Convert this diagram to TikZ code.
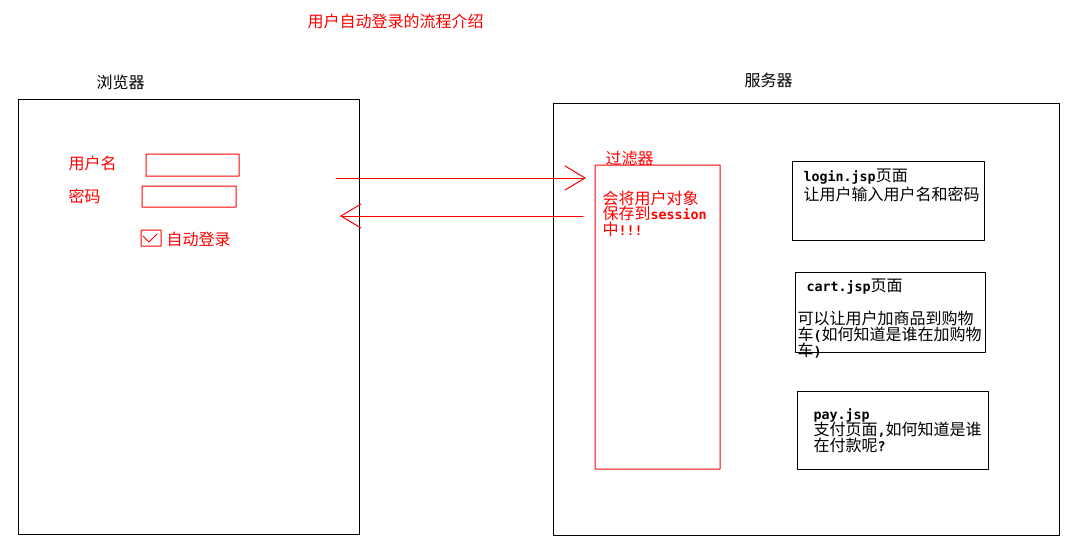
\documentclass[tikz,border=0pt]{standalone}
\usepackage{fontspec}
\setmainfont{Noto Sans CJK SC}
\setmonofont{DejaVu Sans Mono}
\usetikzlibrary{arrows.meta}
\newcommand{\jsp}[1]{{\ttfamily\bfseries\fontsize{10}{12}\selectfont #1}}

\begin{document}
\begin{tikzpicture}[x=0.75pt, y=-0.75pt, line width=0.75pt, line join=round, line cap=round,
	font=\fontsize{12}{12}\selectfont,
	lbl/.style={inner sep=0pt, anchor=base west},
	hot/.style={red},
	>={Straight Barb[length=15pt,width=18pt]}]
	\useasboundingbox (0,0) rectangle (1073,553);
	\path
	(336,178)coordinate (R1)
	(586,178)coordinate (R2)
	(583,216)coordinate (L1)
	(340,216)coordinate (L2)
	;
	% browser and server
	\draw
	(18,99) rectangle (359,534)
	(553,103) rectangle (1059,535)
	(792,161) rectangle (984,240)
	(795,272) rectangle (985,352)
	(797,391) rectangle (988,469)
	;
	\draw [hot]
	(146,154) rectangle (239,176)
	(142,186) rectangle (236,207)
	(141,230) rectangle (161,246)
	(143,236)--(149,242)--(157,234)
	(595,165) rectangle (720,469)
	;
	\draw [hot, ->] (R1)--(R2);
	\draw [hot, ->] (L1)--(L2);
	
	\node[lbl, hot] (title) at (307,27) {用户自动登录的流程介绍};
	\node[lbl] (brw) at (96,88) {浏览器};
	\node[lbl] (srv) at (744,86) {服务器};
	\node[lbl, hot] (user) at (68,169) {用户名};
	\node[lbl, hot] (pwd) at (68,202) {密码};
	\node[lbl, hot] (auto) at (166,245) {自动登录};
	\node[lbl, hot] (flt) at (605,164) {过滤器};
	\foreach \y/\t in {204/会将用户对象, 219/保存到\jsp{session}, 235/中\jsp{!!!}}
	\node[lbl, hot] at (602,\y) {\t};
	\foreach \y/\t in {181/\jsp{login.jsp}页面, 200/让用户输入用户名和密码}
	\node[lbl] at (803,\y) {\t};
	\node[lbl] (cart) at (806,291) {\jsp{cart.jsp}页面};
	\foreach \y/\t in {324/可以让用户加商品到购物, 340/车\jsp{(}如何知道是谁在加购物, 356/车\jsp{)}}
	\node[lbl] at (797,\y) {\t};
	\foreach \y/\t in {419/\jsp{pay.jsp}, 435/支付页面\jsp{,}如何知道是谁, 451/在付款呢\jsp{?}}
	\node[lbl] at (813,\y) {\t};
\end{tikzpicture}
\end{document}
